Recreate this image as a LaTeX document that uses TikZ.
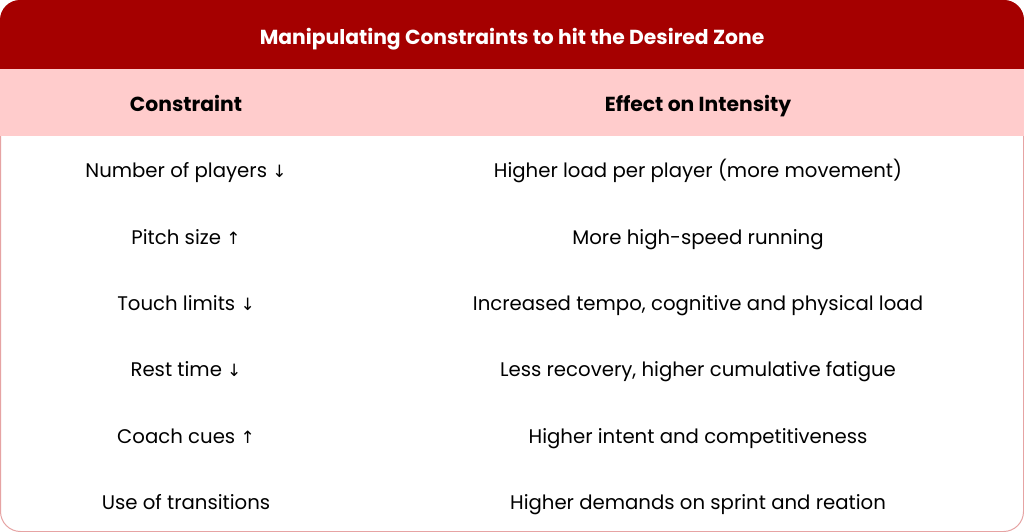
\documentclass[tikz,border=0pt]{standalone}
\usepackage{fontspec}
\setmainfont{Poppins}
\newfontfamily\arrowfont{DejaVu Sans}
\definecolor{titlered}{HTML}{A50000}
\definecolor{headpink}{HTML}{FFCCCC}
\definecolor{bordpink}{HTML}{E6A3A3}
\newcommand{\dnarr}{{\arrowfont\fontsize{17}{17}\selectfont ↓}}
\newcommand{\uparr}{{\arrowfont\fontsize{17}{17}\selectfont ↑}}
\begin{document}
\begin{tikzpicture}[x=1pt,y=-1pt,
  cell/.style={font=\fontsize{19.7}{20}\selectfont, text=black, anchor=base, inner sep=0pt},
  headcell/.style={font=\fontsize{20.3}{21}\selectfont\bfseries, text=black, anchor=base, inner sep=0pt},
  titlecell/.style={font=\fontsize{20.3}{21}\selectfont\bfseries, text=white, anchor=base, inner sep=0pt}]
\useasboundingbox (0,0) rectangle (1024,532);
% body with border
\draw[bordpink, fill=white, line width=1pt, rounded corners=20pt] (0.5,0.5) rectangle (1023.5,531.5);
% title bar (lower rounding hidden under header)
\fill[titlered, rounded corners=20pt] (0,0) rectangle (1024,100);
% header
\fill[headpink] (0,69) rectangle (1024,136);
\node[titlecell] (title) at (512,45) {Manipulating Constraints to hit the Desired Zone};
\node[headcell] (h1) at (186,111) {Constraint};
\node[headcell] (h2) at (698,111) {Effect on Intensity};
\node[cell] (c1) at (186,177) {Number of players \dnarr};
\node[cell] (e1) at (698,177) {Higher load per player (more movement)};
\node[cell] (c2) at (186,244) {Pitch size \uparr};
\node[cell] (e2) at (698,244) {More high-speed running};
\node[cell] (c3) at (186,310) {Touch limits \dnarr};
\node[cell] (e3) at (698,310) {Increased tempo, cognitive and physical load};
\node[cell] (c4) at (186,376) {Rest time \dnarr};
\node[cell] (e4) at (698,376) {Less recovery, higher cumulative fatigue};
\node[cell] (c5) at (186,443) {Coach cues \uparr};
\node[cell] (e5) at (698,443) {Higher intent and competitiveness};
\node[cell] (c6) at (186,509) {Use of transitions};
\node[cell] (e6) at (698,509) {Higher demands on sprint and reation};
\end{tikzpicture}
\end{document}
